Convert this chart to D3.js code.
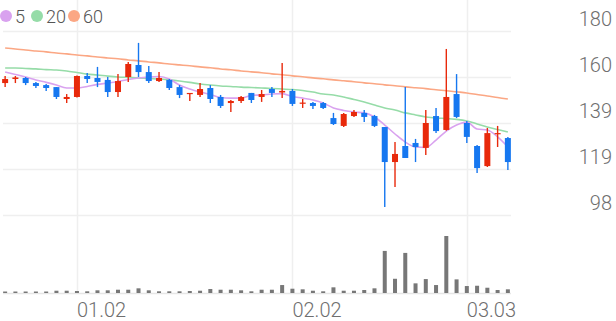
<!DOCTYPE html>
<html>
<head>
<meta charset="utf-8">
<script src="https://cdn.jsdelivr.net/npm/d3@7"></script>
<style>
    body { margin: 0; background: #fff; }
    text { font-family: Roboto, "Noto Sans", sans-serif; }
</style>
</head>
<body>
<div id="chart"></div>
<script>
// trading days (MM.DD)
var dates = ["12.19","12.22","12.23","12.24","12.26","12.29","12.30","01.02","01.05","01.06",
    "01.07","01.08","01.09","01.12","01.13","01.14","01.15","01.16","01.19","01.20",
    "01.21","01.22","01.23","01.26","01.27","01.28","01.29","01.30","02.02","02.03",
    "02.04","02.05","02.06","02.09","02.10","02.11","02.12","02.13","02.19","02.20",
    "02.23","02.24","02.25","02.26","02.27","03.03","03.04","03.05","03.06","03.09"];

var open = [157.2,159.0,159.45,157.2,156.3,155.4,150.1,151.0,160.35,159.45,
    158.6,153.2,159.9,165.25,162.1,158.1,158.6,155.4,152.3,151.9,
    155.0,151.0,148.3,149.2,152.8,151.0,154.55,153.0,153.7,148.1,
    148.3,148.3,141.6,138.1,142.5,143.9,142.5,137.6,122.0,129.15,
    130.5,128.3,142.5,136.3,152.3,139.4,129.15,120.2,134.5,132.7];
var high = [160.35,160.35,159.9,157.7,156.8,155.4,152.3,160.6,161.7,164.4,
    159.9,161.2,166.6,175.1,164.8,162.1,159.0,156.3,152.8,157.2,
    156.3,151.9,149.65,151.4,152.8,154.1,155.4,166.1,154.55,150.1,
    148.8,148.8,143.9,143.9,145.2,145.2,143.0,137.6,130.9,155.4,
    132.3,145.2,146.1,172.4,161.2,140.3,129.6,137.2,138.1,133.2];
var low = [155.4,157.2,156.3,155.0,153.7,150.1,148.3,150.8,157.2,155.4,
    151.0,151.0,157.7,159.9,157.2,157.7,154.1,150.5,149.2,151.0,
    148.3,146.1,144.3,148.3,148.3,148.8,151.0,150.5,147.0,146.1,
    145.6,145.6,138.5,137.6,142.1,139.8,137.6,102.0,110.9,123.8,
    122.0,125.1,134.9,136.0,141.6,130.5,117.1,119.8,128.7,118.45];
var close = [159.0,159.7,157.2,155.9,155.0,151.0,151.0,160.35,159.0,157.7,
    153.2,158.1,165.7,162.1,158.1,159.45,155.0,151.9,152.8,154.55,
    150.1,147.0,149.2,151.0,149.65,152.3,152.8,153.7,147.9,148.5,
    147.0,146.1,138.95,143.4,144.3,142.1,138.1,122.0,125.6,123.8,
    128.7,139.4,135.8,151.0,142.1,133.2,119.3,134.9,134.9,122.0];

var volume = [105,105,105,105,105,161,161,140,119,189,
    189,231,231,329,189,119,119,119,140,161,
    280,231,231,189,119,231,231,560,301,259,
    161,119,399,161,161,210,329,2961,1001,2821,
    679,980,560,4011,959,490,511,371,210,259];

// moving averages
var ma5 = [162.1,161.0,159.9,158.6,157.5,156.3,155.0,155.0,155.7,156.6,
    157.2,157.9,158.8,159.45,159.9,160.1,159.0,156.3,154.55,153.2,
    152.1,150.8,150.5,150.5,151.7,151.9,152.3,152.5,151.2,150.5,
    149.65,148.3,146.1,145.0,144.3,143.9,142.1,138.5,134.5,130.9,
    128.7,128.5,131.8,135.8,138.5,139.8,136.7,136.3,133.2,128.7];
var ma20 = [163.9,163.9,163.7,163.5,163.2,163.0,162.6,161.9,161.2,160.8,
    160.3,159.9,159.7,159.5,159.2,159.0,158.6,158.1,157.5,156.8,
    156.3,155.9,155.7,155.4,155.2,155.0,154.8,154.55,154.3,153.9,
    153.2,152.3,151.9,151.0,149.9,148.8,147.4,146.1,145.2,143.9,
    143.0,142.1,141.6,141.4,141.0,140.3,139.0,137.6,136.5,135.4];
var ma60 = [172.8,172.4,171.9,171.5,171.1,170.6,170.2,169.7,169.3,168.8,
    168.4,168.0,167.5,167.1,166.6,166.2,165.7,165.3,164.9,164.4,
    164.0,163.5,163.1,162.6,162.2,161.8,161.3,160.9,160.4,160.0,
    159.5,159.1,158.6,158.2,157.8,157.3,156.9,156.4,156.0,155.5,
    155.1,154.7,154.2,153.8,153.3,152.8,152.1,151.4,150.8,150.1];

var maLabels = ["5", "20", "60"];
var yTicks = [98.4, 118.9, 139.4, 159.9, 180.4];
var xTicks = ["01.02", "02.02", "03.03"];

drawChart();

function drawChart() {
    // 1) canvas
    var svg_width = 616;
    var svg_height = 321;
    var plotLeft = 3, plotRight = 511;
    var priceTop = 31, priceBottom = 215;
    var volTop = 236, volBottom = 293;

    var colorUp = "#e8290b";
    var colorDown = "#1677f0";
    var maColors = ["#d9a2ef", "#96dca8", "#fba784"];
    var gridColor = "#efefef";
    var textColor = "#6f6f6f";

    var svg = d3.select("#chart")
        .append("svg")
        .attr("width", svg_width)
        .attr("height", svg_height);

    // 2) scales
    var xScale = d3.scaleBand()
        .domain(dates)
        .range([0, 513]);
    var cx = function(i) { return xScale(dates[i]) + xScale.bandwidth() / 2; };

    var yScale = d3.scaleLinear()
        .domain([98.4, 180.4])
        .range([priceBottom, priceTop]);

    var volScale = d3.scaleLinear()
        .domain([0, d3.max(volume)])
        .range([volBottom, volTop]);

    // 3) grid
    var grid = svg.append("g");
    grid.selectAll("line.h")
        .data(yTicks)
        .enter()
        .append("line")
        .attr("x1", plotLeft)
        .attr("x2", plotRight)
        .attr("y1", d => Math.round(yScale(d)) + 0.5)
        .attr("y2", d => Math.round(yScale(d)) + 0.5)
        .attr("stroke", gridColor)
        .attr("stroke-width", 1.5);

    grid.append("line")
        .attr("x1", plotLeft)
        .attr("x2", plotRight)
        .attr("y1", volBottom + 0.5)
        .attr("y2", volBottom + 0.5)
        .attr("stroke", "#e6e6e6")
        .attr("stroke-width", 1.5);

    grid.selectAll("line.v")
        .data(xTicks)
        .enter()
        .append("line")
        .attr("x1", d => Math.round(cx(dates.indexOf(d))) + 0.5)
        .attr("x2", d => Math.round(cx(dates.indexOf(d))) + 0.5)
        .attr("y1", 0)
        .attr("y2", volBottom)
        .attr("stroke", gridColor)
        .attr("stroke-width", 1.5);

    // 4) axis labels
    var fmt = d3.format(".0f");
    svg.append("g").selectAll("text")
        .data(yTicks)
        .enter()
        .append("text")
        .attr("x", 612)
        .attr("y", d => yScale(d) - 5)
        .attr("text-anchor", "end")
        .attr("font-size", 20)
        .attr("font-weight", 300)
        .attr("fill", textColor)
        .text(d => fmt(d));

    svg.append("g").selectAll("text")
        .data(xTicks)
        .enter()
        .append("text")
        .attr("x", d => cx(dates.indexOf(d)))
        .attr("y", 317)
        .attr("font-size", 20)
        .attr("font-weight", 300)
        .attr("fill", textColor)
        .text(d => d);

    // 5) moving average lines
    var line = d3.line()
        .x((d, i) => cx(i))
        .y(d => yScale(d))
        .curve(d3.curveMonotoneX);

    [ma60, ma20, ma5].forEach(function(series, k) {
        svg.append("path")
            .datum(series)
            .attr("fill", "none")
            .attr("stroke", maColors[2 - k])
            .attr("stroke-width", 1.6)
            .attr("d", line);
    });

    // 6) candles
    var idx = d3.range(dates.length);
    var colorOf = i => close[i] >= open[i] ? colorUp : colorDown;

    var candles = svg.append("g");
    candles.selectAll("line")
        .data(idx)
        .enter()
        .append("line")
        .attr("x1", i => cx(i))
        .attr("x2", i => cx(i))
        .attr("y1", i => yScale(high[i]))
        .attr("y2", i => yScale(low[i]))
        .attr("stroke", colorOf)
        .attr("stroke-width", 1.4);

    candles.selectAll("rect")
        .data(idx)
        .enter()
        .append("rect")
        .attr("x", i => cx(i) - 3)
        .attr("width", 6)
        .attr("y", i => yScale(Math.max(open[i], close[i])))
        .attr("height", i => Math.max(1.2, Math.abs(yScale(open[i]) - yScale(close[i]))))
        .attr("fill", colorOf);

    // 7) volume
    svg.append("g").selectAll("rect")
        .data(idx)
        .enter()
        .append("rect")
        .attr("x", i => cx(i) - 2)
        .attr("width", 4)
        .attr("y", i => volScale(volume[i]))
        .attr("height", i => volBottom - volScale(volume[i]))
        .attr("fill", "#777");

    // 8) legend
    var legendX = [6, 37, 74];
    var lg = svg.append("g");
    maLabels.forEach(function(lbl, k) {
        lg.append("circle")
            .attr("cx", legendX[k])
            .attr("cy", 16)
            .attr("r", 6)
            .attr("fill", maColors[k]);
        lg.append("text")
            .attr("x", legendX[k] + 9)
            .attr("y", 23)
            .attr("font-size", 18)
            .attr("font-weight", 300)
            .attr("fill", "#555")
            .text(lbl);
    });
}
</script>
</body>
</html>
